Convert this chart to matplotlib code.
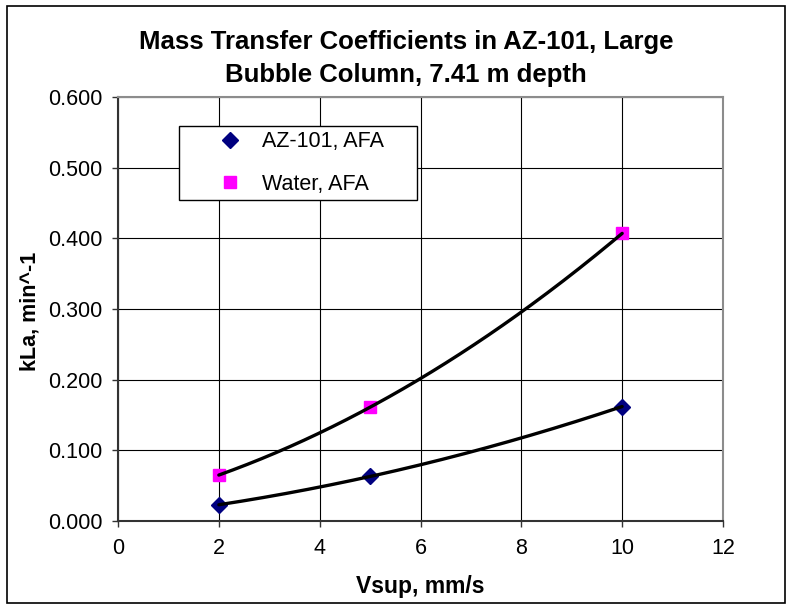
import numpy as np
import matplotlib
matplotlib.use("Agg")
import matplotlib.pyplot as plt
from matplotlib.ticker import FormatStrFormatter, MultipleLocator
from matplotlib.patches import Rectangle

# data
vsup = [2, 5, 10]
kla_az101 = [0.023, 0.063, 0.162]
kla_water = [0.065, 0.161, 0.407]
series_names = ["AZ-101, AFA", "Water, AFA"]
title_lines = ["Mass Transfer Coefficients in AZ-101, Large",
               "Bubble Column, 7.41 m depth"]

plt.rcParams['font.family'] = ['Liberation Sans', 'DejaVu Sans']

W, H = 788, 606
fig = plt.figure(figsize=(W / 100, H / 100), dpi=100)


def fx(px):
    return px / W


def fy(py):
    return 1 - py / H


ax = fig.add_axes([fx(118), fy(521), fx(723) - fx(118), fy(97) - fy(521)])

# second-order trendlines, like the spreadsheet ones
xs = np.linspace(min(vsup), max(vsup), 200)
for yv in (kla_az101, kla_water):
    c = np.polyfit(vsup, yv, 2)
    ax.plot(xs, np.polyval(c, xs), color='black', lw=2.4, zorder=4,
            solid_capstyle='round')

ax.plot(vsup, kla_az101, ls='none', marker='D', ms=7.8, color='#000080',
        mec='#000080', label=series_names[0], zorder=3)
ax.plot(vsup, kla_water, ls='none', marker='s', ms=8.5, color='#FF00FF',
        mec='#FF00FF', label=series_names[1], zorder=3)

ax.set_xlim(0, 12)
ax.set_ylim(0, 0.6)
ax.xaxis.set_major_locator(MultipleLocator(2))
ax.yaxis.set_major_locator(MultipleLocator(0.1))
ax.yaxis.set_major_formatter(FormatStrFormatter('%.3f'))
ax.grid(True, color='black', lw=0.8)
ax.set_axisbelow(True)

for s in ('left', 'bottom'):
    ax.spines[s].set_color('#333333')
    ax.spines[s].set_linewidth(1.5)
for s in ('top', 'right'):
    ax.spines[s].set_color('#8c8c8c')
    ax.spines[s].set_linewidth(1.5)

ax.tick_params(axis='both', direction='out', length=4.3, width=1,
               color='#333333', labelsize=15.5)
ax.tick_params(axis='y', pad=7)
ax.tick_params(axis='x', pad=8)

leg = ax.legend(loc='upper left', bbox_to_anchor=(0.1008, 0.7358, 0.393, 0.1958),
                mode='expand', borderaxespad=0, fontsize=15.5, numpoints=1,
                handlelength=4.2, handletextpad=-0.6, borderpad=0.25,
                labelspacing=1.0, fancybox=False, edgecolor='black',
                framealpha=1)
leg.get_frame().set_linewidth(1.0)

fig.text(fx(406), fy(42), title_lines[0], ha='center', va='center',
         fontsize=18.5, fontweight='bold')
fig.text(fx(406), fy(75), title_lines[1], ha='center', va='center',
         fontsize=18.5, fontweight='bold')
fig.text(fx(420), fy(586), "Vsup, mm/s", ha='center', va='center',
         fontsize=16.5, fontweight='bold')
fig.text(fx(30), fy(311), "kLa, min^-1", ha='center', va='center',
         rotation=90, fontsize=15.5, fontweight='bold')

fig.patches.append(Rectangle((fx(6.5), fy(603)), fx(785) - fx(6.5), fy(6) - fy(603),
                             transform=fig.transFigure, fill=False,
                             edgecolor='black', lw=1.2))

fig.savefig('out.png', dpi=100)
